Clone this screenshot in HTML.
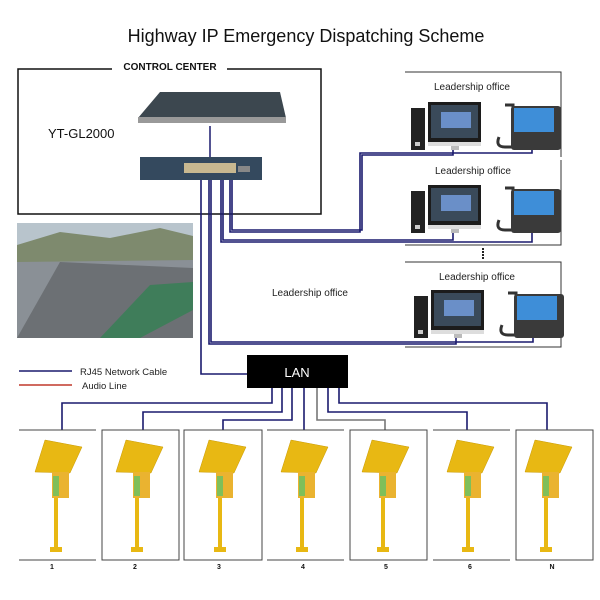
<!DOCTYPE html>
<html><head><meta charset="utf-8"><style>
html,body{margin:0;padding:0;background:#fff;}
svg{display:block;}
text{font-family:"Liberation Sans",sans-serif;}
</style></head><body>
<svg width="600" height="600" viewBox="0 0 600 600" xmlns="http://www.w3.org/2000/svg">
<defs>
<g id="pc">
  <rect x="0" y="6" width="14" height="42" fill="#222"/>
  <rect x="4" y="40" width="5" height="4" fill="#ccc"/>
  <rect x="17" y="0" width="53" height="40" fill="#1c1c1c"/>
  <rect x="20" y="3" width="47" height="33" fill="#3a4a5a"/>
  <rect x="30" y="10" width="30" height="16" fill="#6a8fc8"/>
  <rect x="17" y="40" width="53" height="4" fill="#ddd"/>
  <rect x="40" y="44" width="8" height="4" fill="#bbb"/>
  <path d="M94 3 h8 v42 h-8 q-10 0 -6 -10" fill="none" stroke="#333" stroke-width="3"/>
  <rect x="100" y="4" width="50" height="44" rx="3" fill="#3a3a3a"/>
  <rect x="103" y="6" width="40" height="24" fill="#3e8ed8"/>
</g>
<g id="stand">
  <polygon points="45,440 82,447 70,473 35,472" fill="#e8b813" stroke="#c99a00" stroke-width="0.5"/>
  <rect x="54" y="456" width="4" height="94" fill="#e8b813"/>
  <rect x="52" y="472" width="17" height="26" fill="#eab330"/>
  <rect x="53" y="476" width="6" height="20" fill="#7fbf5a"/>
  <rect x="50" y="547" width="12" height="5" fill="#e8b813"/>
</g>
</defs>

<text x="306" y="42" font-size="18" text-anchor="middle" fill="#111">Highway IP Emergency Dispatching Scheme</text>

<polyline points="112,69 18,69 18,214 321,214 321,69 227,69" fill="none" stroke="#111" stroke-width="1.5"/>
<text x="170" y="70" font-size="10" font-weight="bold" text-anchor="middle" fill="#111">CONTROL CENTER</text>
<text x="48" y="138" font-size="13" fill="#111">YT-GL2000</text>
<polygon points="160,92 280,92 286,118 138,118" fill="#3c474f"/>
<rect x="138" y="117" width="148" height="6" fill="#999"/>
<line x1="210" y1="126" x2="210" y2="157" stroke="#1a1a6e" stroke-width="1.5"/>
<rect x="140" y="157" width="122" height="23" fill="#34495e"/>
<rect x="184" y="163" width="52" height="10" fill="#c8b890"/>
<rect x="238" y="166" width="12" height="6" fill="#888"/>

<g fill="none" stroke="#1a1a6e" stroke-width="1.6">
<polyline points="201,180 201,374 247,374"/>
<polyline points="209,180 209,344 456,344 456,336"/>
<polyline points="211,180 211,342 533,342 533,336"/>
<polyline points="221,180 221,242 532,242 532,232"/>
<polyline points="223,180 223,240 453,240 453,232"/>
<polyline points="230,180 230,232 360,232 360,153 532,153 532,145"/>
<polyline points="232,180 232,230 362,230 362,155 453,155 453,145"/>
</g>

<g fill="none" stroke="#333" stroke-width="1">
<polyline points="405,72 561,72 561,157"/>
<polyline points="561,160 561,245 405,245"/>
<polyline points="405,262 561,262 561,347 405,347"/>
</g>
<text x="472" y="90" font-size="10" text-anchor="middle" fill="#222">Leadership office</text>
<text x="473" y="174" font-size="10" text-anchor="middle" fill="#222">Leadership office</text>
<text x="477" y="280" font-size="10" text-anchor="middle" fill="#222">Leadership office</text>
<text x="310" y="296" font-size="10" text-anchor="middle" fill="#222">Leadership office</text>
<line x1="483" y1="248" x2="483" y2="260" stroke="#222" stroke-width="2" stroke-dasharray="2,1"/>
<use href="#pc" x="411" y="102"/>
<use href="#pc" x="411" y="185"/>
<use href="#pc" x="414" y="290"/>

<rect x="17" y="223" width="176" height="115" fill="#8a9096"/>
<rect x="17" y="223" width="176" height="22" fill="#b8c4cc"/>
<polygon points="17,245 60,232 110,238 160,228 193,236 193,260 17,262" fill="#7e8a6e"/>
<polygon points="17,338 60,262 193,268 193,338" fill="#6c7074"/>
<polygon points="100,338 150,285 193,282 193,310 140,338" fill="#3f7d5a"/>

<rect x="247" y="355" width="101" height="33" fill="#000"/>
<text x="297" y="377" font-size="13" fill="#fff" text-anchor="middle">LAN</text>

<line x1="19" y1="371" x2="72" y2="371" stroke="#1a1a6e" stroke-width="1.5"/>
<line x1="19" y1="385" x2="72" y2="385" stroke="#c0392b" stroke-width="1.5"/>
<text x="80" y="375" font-size="9.5" fill="#222">RJ45 Network Cable</text>
<text x="82" y="389" font-size="9.5" fill="#222">Audio Line</text>

<g fill="none" stroke="#1a1a6e" stroke-width="1.6">
<polyline points="272,388 272,403 62,403 62,430"/>
<polyline points="282,388 282,412 143,412 143,430"/>
<polyline points="292,388 292,420 223,420 223,430"/>
<polyline points="304,388 304,430"/>
<polyline points="317,388 317,420 385,420 385,430" stroke="#777"/>
<polyline points="328,388 328,412 467,412 467,430"/>
<polyline points="339,388 339,403 547,403 547,430"/>
</g>

<g fill="none" stroke="#444" stroke-width="1">
<line x1="19" y1="430" x2="96" y2="430"/><line x1="19" y1="560" x2="96" y2="560"/>
<rect x="102" y="430" width="77" height="130"/>
<rect x="184" y="430" width="78" height="130"/>
<line x1="267" y1="430" x2="344" y2="430"/><line x1="267" y1="560" x2="344" y2="560"/>
<rect x="350" y="430" width="77" height="130"/>
<line x1="433" y1="430" x2="510" y2="430"/><line x1="433" y1="560" x2="510" y2="560"/>
<rect x="516" y="430" width="77" height="130"/>
</g>
<use href="#stand" x="0" y="0"/>
<use href="#stand" x="81" y="0"/>
<use href="#stand" x="164" y="0"/>
<use href="#stand" x="246" y="0"/>
<use href="#stand" x="327" y="0"/>
<use href="#stand" x="412" y="0"/>
<use href="#stand" x="490" y="0"/>

<g font-size="7" font-weight="bold" text-anchor="middle" fill="#111">
<text x="52" y="569">1</text><text x="135" y="569">2</text><text x="219" y="569">3</text>
<text x="303" y="569">4</text><text x="386" y="569">5</text><text x="470" y="569">6</text><text x="552" y="569">N</text>
</g>
</svg>
</body></html>
